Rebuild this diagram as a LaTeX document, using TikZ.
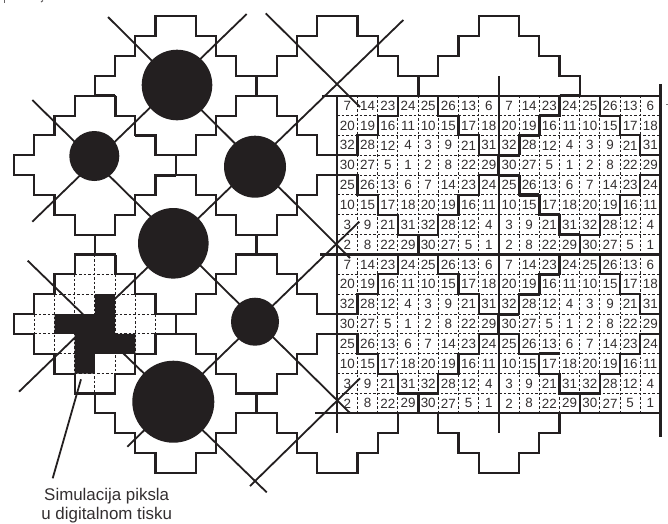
\documentclass[tikz,border=0pt]{standalone}
\usepackage{fontspec}
\setmainfont{Liberation Sans}
\definecolor{ink}{HTML}{231F20}
\definecolor{txt}{HTML}{332F30}
\tikzset{
  tileline/.style={draw=ink,line width=2.1pt,line join=miter},
  heavy/.style={draw=ink,line width=3.1pt,line cap=square},
  screen/.style={draw=ink,line width=1.8pt},
  gridline/.style={draw=ink,line width=2.1pt},
  cellline/.style={draw=ink,line width=1pt,dash pattern=on 2.6pt off 1.9pt},
  num/.style={inner sep=0pt,text=txt,font=\fontsize{13.4}{14}\selectfont},
  blob/.style={fill=ink,draw=none},
  caption/.style={inner sep=0pt,align=center,text=txt,font=\fontsize{16.9}{19}\selectfont},
}
\begin{document}
\begin{tikzpicture}[x=1pt,y=-1pt]
\useasboundingbox (0,0) rectangle (668,523);
\fill[white] (0,0) rectangle (668,523);
\begin{scope}[shift={(337.3,95.7)},x=20.2pt,y=-19.85pt]
  % dashed cell lines of the threshold matrix
  \foreach \k in {1,...,15} {
    \draw[cellline] (\k,0) -- (\k,16);
    \draw[cellline] (0,\k) -- (16,\k);
  }
  % numbers
  \foreach \bx in {0,8} \foreach \by in {0,8} {
    \foreach \row [count=\r from 0] in {
      {7,14,23,24,25,26,13,6},
      {20,19,16,11,10,15,17,18},
      {32,28,12,4,3,9,21,31},
      {30,27,5,1,2,8,22,29},
      {25,26,13,6,7,14,23,24},
      {10,15,17,18,20,19,16,11},
      {3,9,21,31,32,28,12,4},
      {2,8,22,29,30,27,5,1}} {
      \foreach \v [count=\c from 0] in \row {
        \node[num] (n\bx-\by-\r-\c) at (\bx+\c+0.5,\by+\r+0.5) {\v};
      }
    }
  }
  % pixel simulation: dashed cells
  \foreach \a/\b/\c in {9/-13/-11,10/-14/-10,11/-15/-9,12/-15/-9,13/-14/-10,14/-13/-11}
    \draw[cellline] (\b,\a) -- (\c,\a);
  \foreach \a/\b/\c in {-15/11/12,-14/10/13,-13/9/14,-12/8/15,-11/9/14,-10/10/13,-9/11/12}
    \draw[cellline] (\a,\b) -- (\a,\c);
  % tiles
  \foreach \cx/\jz in {-8/-4,0/-4,8/-4,-12/0,-4/0,4/0,12/0,-8/4,0/4,8/4,-12/8,-4/8,4/8,12/8,-8/12,0/12,8/12} {
    \draw[tileline,shift={(\cx,\jz)}] (-1,0) -- (1,0) -- (1,1) -- (2,1) -- (2,2) -- (3,2) -- (3,3) -- (4,3) -- (4,4) -- (3,4) -- (3,5) -- (2,5) -- (2,6) -- (1,6) -- (1,7) -- (-1,7) -- (-1,6) -- (-2,6) -- (-2,5) -- (-3,5) -- (-3,4) -- (-4,4) -- (-4,3) -- (-3,3) -- (-3,2) -- (-2,2) -- (-2,1) -- (-1,1) -- cycle;
  }
  % solid matrix lines
  \draw[gridline] (-0.75,0) -- (16,0);
  \draw[gridline] (-0.85,8) -- (16,8);
  \draw[gridline] (-1.1,16) -- (16,16);
  \draw[gridline] (0,0) -- (0,17);
  \draw[gridline] (8,-1) -- (8,17);
  \draw[gridline] (16,-0.6) -- (16,17.2);
  % heavier segments
  \foreach \a/\b/\c/\d in {4/-1/4/0,-4/-1/-4/0,-4/7/-4/8,-4/15/-4/16,4/15/4/16,4/7/4/8,8/3/8/4,8/11/8/12,16/3/16/4,
      11/0/12/0,4/8/5/8,11/8/12/8,10/1/11/1,10/1/10/2,9/2/10/2,9/2/9/3,8/3/9/3,8/4/9/4,9/4/9/5,9/5/10/5,10/5/10/6,10/6/11/6,11/7/12/7,
      10/9/11/9,10/9/10/10,9/10/10/10,8/11/9/11,10/13/11/13,
      -12/0/-11/0,-11/0/-11/1,-10/2/-9/2,-9/2/-9/3,-9/4/-8/4,-12/8/-11/8,-11/8/-11/9} {
    \draw[heavy] (\a,\b) -- (\c,\d);
  }
\end{scope}
% screen lines
\foreach \a/\b/\c/\d in {
  108/17/350/258, 265.7/13.3/360/107, 32.3/100/350/413, 27.7/260.7/266.7/492.3,
  246.7/14/32.3/221.7, 403.3/20/19/391.7, 359.3/221.7/127.3/446.7, 360/378.3/250/486} {
  \draw[screen] (\a,\b) -- (\c,\d);
}
% the simulated pixel, over the lines
\begin{scope}[shift={(337.3,95.7)},x=20.2pt,y=-19.85pt]
  \fill[blob] (-12,10) -- (-11,10) -- (-11,12) -- (-10,12) -- (-10,13) -- (-12,13) -- (-12,14) -- (-13,14) -- (-13,12) -- (-14,12) -- (-14,11) -- (-12,11) -- cycle;
\end{scope}
% screen dots
\fill[blob] (177,85) circle (35.3);
\fill[blob] (94.3,156) circle (25);
\fill[blob] (255,166.7) circle (31);
\fill[blob] (173.3,243.3) circle (35.3);
\fill[blob] (255,321.7) circle (24);
\fill[blob] (173.3,401.7) circle (41);
% label and pointer
\node[caption] (lab) at (106.7,505.5) {Simulacija piksla\\u digitalnom tisku};
\coordinate (ptrtop) at (81,379.3);
\coordinate (ptrbot) at (52.7,478.3);
\draw[screen] (ptrtop) -- (ptrbot);
% cropped fragments at the image edge
\draw[draw=ink!70,line width=0.9pt] (4,0) -- (4,2.6);
\draw[draw=ink!70,line width=1.1pt] (41,2) -- (43,0.5);
\draw[draw=ink!60,line width=0.5pt] (666,104) -- (668,104);
\end{tikzpicture}
\end{document}
